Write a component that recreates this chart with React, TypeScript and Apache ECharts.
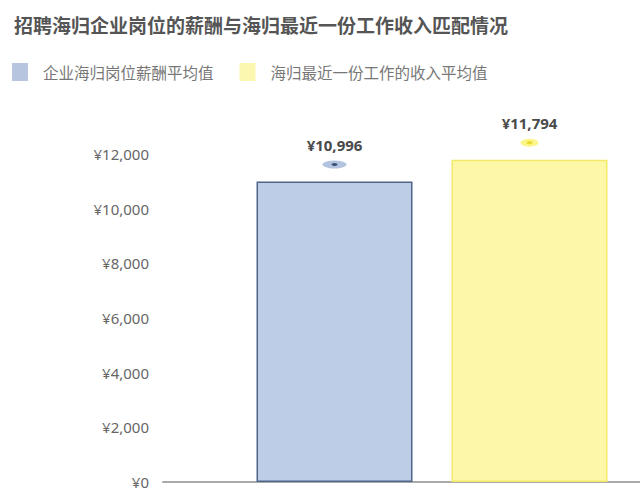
import { useEffect, useRef } from 'react';
import * as echarts from 'echarts';

const title = '招聘海归企业岗位的薪酬与海归最近一份工作收入匹配情况';
const categories = ['平均值'];
const seriesNames = ['企业海归岗位薪酬平均值', '海归最近一份工作的收入平均值'];
const companyPay = [10996];
const lastIncome = [11794];
const yMax = 12000;
const yStep = 2000;

const fmt = (v: number) => '¥' + v.toLocaleString('en-US');

export default function App() {
  const chartRef = useRef<HTMLDivElement>(null);

  useEffect(() => {
    if (!chartRef.current) return;
    const chart = echarts.init(chartRef.current, null, { renderer: 'svg' });
    const font = '"Noto Sans CJK SC", "Noto Sans", sans-serif';

    const dotMarks = (outer: string, inner: string, outerSize: number[]) => ({
      silent: true,
      label: { show: false },
      data: [
        { type: 'max', symbol: 'circle', symbolSize: outerSize, symbolOffset: [0, -17], itemStyle: { color: outer } },
        { type: 'max', symbol: 'circle', symbolSize: [6, 3], symbolOffset: [0, -17], itemStyle: { color: inner } },
      ],
    });

    const valueLabel = {
      show: true,
      position: 'top',
      distance: 29,
      formatter: (p: any) => fmt(p.value),
      fontSize: 15,
      fontWeight: 'bold',
      color: '#4a4a4a',
      fontFamily: '"Noto Sans", sans-serif',
    };

    chart.setOption({
      animation: false,
      backgroundColor: '#fff',
      textStyle: { fontFamily: font },
      title: {
        text: title,
        left: 9,
        top: 10,
        textStyle: { fontSize: 19, fontWeight: 'bold', color: '#555', fontFamily: font },
      },
      legend: {
        left: 7,
        top: 58,
        itemWidth: 16,
        itemHeight: 18,
        itemGap: 26,
        icon: 'rect',
        itemStyle: { borderWidth: 0 },
        textStyle: { fontSize: 15.5, color: '#777', padding: [0, 0, 0, 10], fontFamily: font },
        data: [
          { name: seriesNames[0], itemStyle: { color: '#b7c6de', borderWidth: 0 } },
          { name: seriesNames[1], itemStyle: { color: '#fbf7b0', borderWidth: 0 } },
        ],
      },
      // the plot runs past the right edge of the picture, so let it overflow
      grid: { left: 163, width: 538, top: 154, bottom: 18, outerBoundsMode: 'none' },
      xAxis: {
        type: 'category',
        data: categories,
        axisLine: { lineStyle: { color: '#aaa', width: 2 } },
        axisTick: { show: false },
        axisLabel: { show: false },
      },
      yAxis: {
        type: 'value',
        min: 0,
        max: yMax,
        interval: yStep,
        axisLine: { show: false },
        axisTick: { show: false },
        splitLine: { show: false },
        axisLabel: {
          formatter: (v: number) => fmt(v),
          color: '#666',
          fontSize: 15,
          margin: 14,
          fontFamily: '"Noto Sans", sans-serif',
        },
      },
      series: [
        {
          name: seriesNames[0],
          type: 'bar',
          data: companyPay,
          barWidth: 156,
          barGap: '25%',
          itemStyle: { color: '#bdcde8', borderColor: '#4e6488', borderWidth: 1.5 },
          label: valueLabel,
          markPoint: dotMarks('#b3c4e0', '#3d5378', [24, 8]),
        },
        {
          name: seriesNames[1],
          type: 'bar',
          data: lastIncome,
          barWidth: 156,
          itemStyle: { color: '#fdf8a8', borderColor: '#f3ea6c', borderWidth: 1.5 },
          label: valueLabel,
          markPoint: dotMarks('#fbf58a', '#e8dc30', [18, 8]),
        },
      ],
    });

    return () => chart.dispose();
  }, []);

  return (
    <div
      ref={chartRef}
      style={{ position: 'fixed', left: 0, top: 0, width: 640, height: 500 }}
    />
  );
}
